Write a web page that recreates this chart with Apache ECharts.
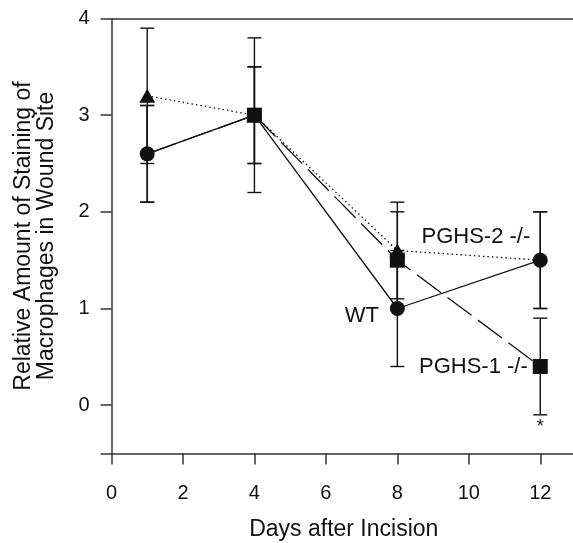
<!DOCTYPE html>
<html>
<head>
<meta charset="utf-8">
<script src="https://cdn.jsdelivr.net/npm/echarts@6/dist/echarts.min.js"></script>
<style>
  html, body { margin: 0; padding: 0; background: #fff; }
  #chart { width: 573px; height: 543px; }
</style>
</head>
<body>
<div id="chart"></div>
<script>
const days = [1, 4, 8, 12];
const xTicks = [0, 2, 4, 6, 8, 10, 12];
const yTicks = [0, 1, 2, 3, 4];

const wtMean = [2.6, 3.0, 1.0, 1.5];
const wtErr = [0.5, 0.8, 0.6, 0.5];
const pghs2Mean = [3.2, 3.0, 1.6, 1.5];
const pghs2Err = [0.7, 0.5, 0.5, 0.5];
const pghs1Mean = [2.6, 3.0, 1.5, 0.4];
const pghs1Err = [0.5, 0.5, 0.5, 0.5];

const FONT = "'Liberation Sans', Arial, Helvetica, sans-serif";
const INK = "#111";

const chart = echarts.init(document.getElementById("chart"), null, { renderer: "canvas" });

const pairs = (mean) => days.map((d, i) => [d, mean[i]]);
const errData = (mean, err) =>
  days.map((d, i) => [d, mean[i] - err[i], mean[i] + err[i]]);

const renderErr = (params, api) => {
  const x = api.value(0);
  const lo = api.coord([x, api.value(1)]);
  const hi = api.coord([x, api.value(2)]);
  const cap = 7;
  const style = { stroke: INK, lineWidth: 1.4 };
  return {
    type: "group",
    children: [
      { type: "line", shape: { x1: lo[0], y1: lo[1], x2: hi[0], y2: hi[1] }, style },
      { type: "line", shape: { x1: lo[0] - cap, y1: lo[1], x2: lo[0] + cap, y2: lo[1] }, style },
      { type: "line", shape: { x1: hi[0] - cap, y1: hi[1], x2: hi[0] + cap, y2: hi[1] }, style },
    ],
  };
};

const errSeries = (mean, err) => ({
  type: "custom",
  renderItem: renderErr,
  data: errData(mean, err),
  encode: { x: 0, y: [1, 2] },
  z: 1,
  silent: true,
});

const labelText = { fontFamily: FONT, fontSize: 22, color: INK };

chart.setOption({
  animation: false,
  backgroundColor: "#fff",
  grid: {
    left: 111.5,
    right: -3,
    top: 18.5,
    bottom: 89.5,
    containLabel: false,
    outerBoundsMode: "none",
  },
  xAxis: {
    type: "value",
    min: 0,
    max: 13,
    interval: 2,
    name: "Days after Incision",
    nameLocation: "middle",
    nameGap: 65,
    nameTextStyle: { fontFamily: FONT, fontSize: 23, color: INK },
    axisLine: { show: true, onZero: false, lineStyle: { color: "#333", width: 1.5 } },
    axisTick: { show: true, inside: false, length: 11, lineStyle: { color: "#333", width: 1.5 } },
    axisLabel: { margin: 30, fontFamily: FONT, fontSize: 20, color: INK,
      formatter: (v) => (xTicks.includes(v) ? String(v) : "") },
    splitLine: { show: false },
  },
  yAxis: {
    type: "value",
    min: -0.5,
    max: 4,
    name: "Relative Amount of Staining of\nMacrophages in Wound Site",
    nameLocation: "middle",
    nameGap: 53,
    nameTextStyle: { fontFamily: FONT, fontSize: 23, color: INK, lineHeight: 23 },
    axisLine: { show: true, onZero: false, lineStyle: { color: "#333", width: 1.5 } },
    axisTick: { show: true, inside: false, length: 11, lineStyle: { color: "#333", width: 1.5 } },
    axisLabel: { margin: 22, fontFamily: FONT, fontSize: 20, color: INK, customValues: yTicks },
    splitLine: { show: false },
  },
  series: [
    errSeries(pghs1Mean, pghs1Err),
    errSeries(pghs2Mean, pghs2Err),
    errSeries(wtMean, wtErr),
    {
      name: "PGHS-1 -/-",
      type: "line",
      data: pairs(pghs1Mean).map((p, i) => {
        if (i === 0) return { value: p, symbolSize: 10 };
        if (i === 3) {
          return { value: p, label: { show: true, position: "left", distance: 5, formatter: "PGHS-1 -/-", ...labelText } };
        }
        return p;
      }),
      symbol: "rect",
      symbolSize: 15,
      itemStyle: { color: INK },
      lineStyle: { color: INK, width: 1.3, type: [30, 8] },
      z: 3,
      markPoint: {
        symbol: "circle",
        symbolSize: 0,
        silent: true,
        label: { show: true, position: "inside", offset: [0, 12], formatter: "*",
          fontFamily: FONT, fontSize: 18, color: INK },
        data: [{ coord: [12, pghs1Mean[3] - pghs1Err[3]] }],
      },
      markLine: {
        symbol: "none",
        silent: true,
        label: { show: false },
        lineStyle: { color: "#333", width: 1.5, type: "solid" },
        data: [{ yAxis: 4 }],
      },
    },
    {
      name: "PGHS-2 -/-",
      type: "line",
      data: pairs(pghs2Mean).map((p, i) =>
        i === 3
          ? { value: p, symbolSize: 10,
              label: { show: true, position: "left", distance: 5, offset: [0, -23], formatter: "PGHS-2 -/-", ...labelText } }
          : p),
      symbol: "triangle",
      symbolSize: [16, 14],
      itemStyle: { color: INK },
      lineStyle: { color: INK, width: 1.3, type: [1.5, 3] },
      z: 4,
    },
    {
      name: "WT",
      type: "line",
      data: pairs(wtMean).map((p, i) =>
        i === 2
          ? { value: p, label: { show: true, position: "left", distance: 11, offset: [0, 7], formatter: "WT", ...labelText } }
          : p),
      symbol: "circle",
      symbolSize: 15,
      itemStyle: { color: INK },
      lineStyle: { color: INK, width: 1.3, type: "solid" },
      z: 5,
    },
  ],
});
</script>
</body>
</html>
